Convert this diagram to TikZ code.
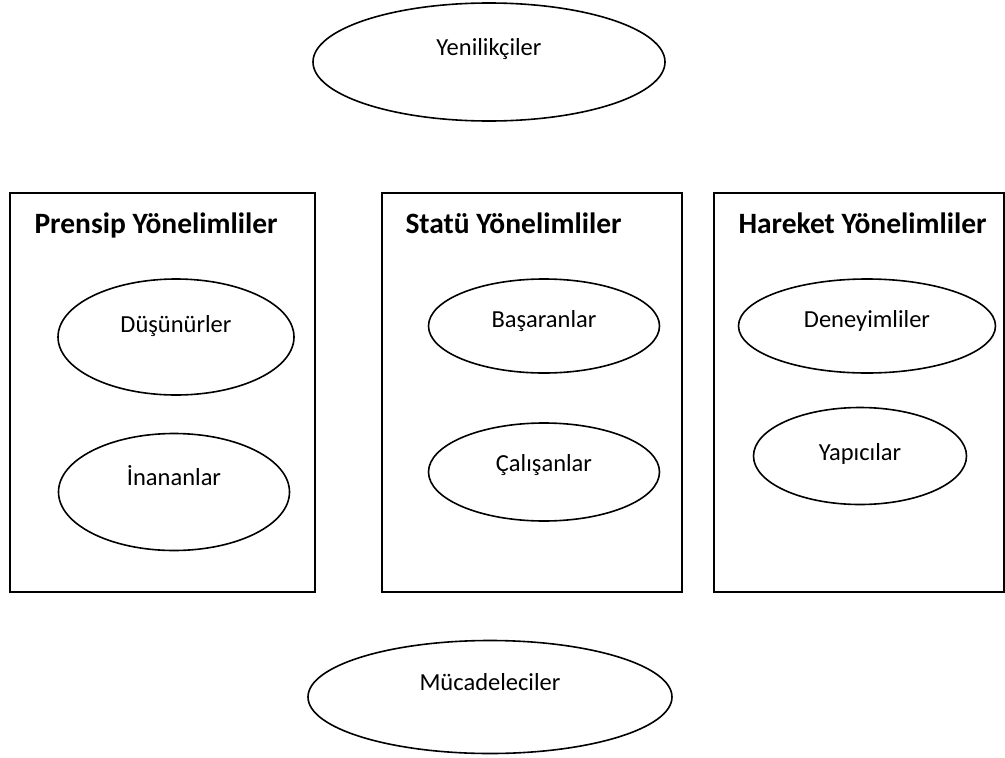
\documentclass[tikz,border=0pt]{standalone}
\usepackage{fontspec}
\setmainfont{Carlito}
\usetikzlibrary{shapes.geometric}
\tikzset{every node/.style={align=center}}
\tikzset{panel/.style={draw, line width=1.6pt}}
\tikzset{oval/.style={draw, ellipse, line width=1.6pt, inner sep=0pt}}
\tikzset{word/.style={font=\fontsize{24.5}{27}\selectfont, anchor=base}}
\tikzset{heading/.style={font=\fontsize{29.5}{32}\selectfont\bfseries, anchor=base west}}

\begin{document}
\begin{tikzpicture}[x=1pt, y=-1pt]
		\useasboundingbox (0,0) rectangle (1005,758);

		% Panels
		\draw[panel] (10,193) rectangle (315,592);
		\draw[panel] (382,193) rectangle (682,592);
		\draw[panel] (714,193) rectangle (1004,592);
		%% Headings
		\node[heading] (prensip) at (31,233) {Prensip Yönelimliler};
		\node[heading] (statu) at (402,233) {Statü Yönelimliler};
		\node[heading] (hareket) at (735,233) {Hareket Yönelimliler};

		% Ovals
		\node[oval, minimum width=352, minimum height=118] (yen) at (489,62) {};
		\node[oval, minimum width=236, minimum height=116] (dus) at (176,337) {};
		\node[oval, minimum width=231, minimum height=117] (ina) at (174,492) {};
		\node[oval, minimum width=231, minimum height=94] (bas) at (544,326) {};
		\node[oval, minimum width=231, minimum height=98] (cal) at (544,472) {};
		\node[oval, minimum width=257, minimum height=94] (den) at (867,326) {};
		\node[oval, minimum width=213, minimum height=97] (yap) at (860,456) {};
		\node[oval, minimum width=364, minimum height=113] (muc) at (490,697) {};
		%% Words
		\node[word] (yent) at (489,55) {Yenilikçiler};
		\node[word] (dust) at (176,332) {Düşünürler};
		\node[word] (inat) at (174,485) {İnananlar};
		\node[word] (bast) at (544,327) {Başaranlar};
		\node[word] (calt) at (544,471) {Çalışanlar};
		\node[word] (dent) at (867,327) {Deneyimliler};
		\node[word] (yapt) at (860,460) {Yapıcılar};
		\node[word] (muct) at (490,690) {Mücadeleciler};
\end{tikzpicture}
\end{document}
